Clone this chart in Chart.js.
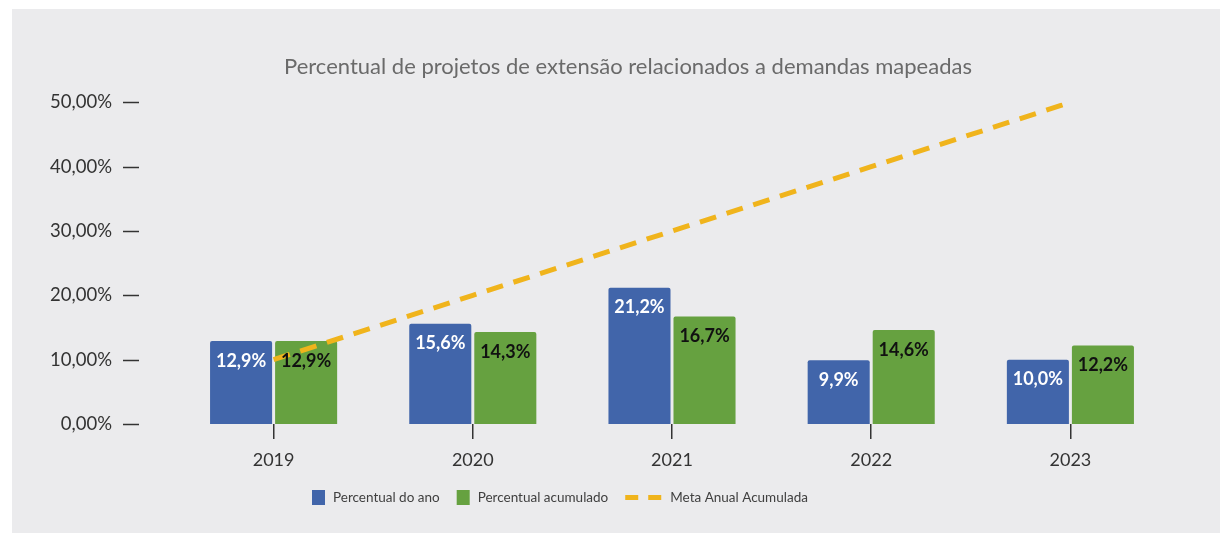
<!DOCTYPE html>
<html>
<head>
<meta charset="utf-8">
<script src="https://cdn.jsdelivr.net/npm/chart.js@4.4.0/dist/chart.umd.min.js"></script>
<style>
  html, body { margin: 0; padding: 0; background: #ffffff; }
  #wrap { position: relative; width: 1220px; height: 533px; }
</style>
</head>
<body>
<div id="wrap"><canvas id="metaChart" width="1220" height="533"></canvas></div>
<script>
const anos = ['2019', '2020', '2021', '2022', '2023'];
const percentualAno = [12.9, 15.6, 21.2, 9.9, 10.0];
const percentualAcumulado = [12.9, 14.3, 16.7, 14.6, 12.2];
const metaAnual = [10, 20, 30, 40, 50];
const yTicks = [0, 10, 20, 30, 40, 50];

const FONT = 'Lato';

function fmtPct(v, casas) {
  return v.toFixed(casas).replace('.', ',') + '%';
}

// gray panel behind everything
const panelBg = {
  id: 'panelBg',
  beforeDraw(chart) {
    const ctx = chart.ctx;
    ctx.save();
    ctx.fillStyle = '#ebebed';
    ctx.fillRect(12, 9, chart.width - 12, chart.height - 9);
    ctx.restore();
  }
};

// little dashes next to the y labels
const yDashes = {
  id: 'yDashes',
  afterDraw(chart) {
    const ctx = chart.ctx;
    const y = chart.scales.y;
    ctx.save();
    ctx.strokeStyle = '#333';
    ctx.lineWidth = 1.5;
    y.ticks.forEach(t => {
      const py = Math.round(y.getPixelForValue(t.value)) + 0.5;
      ctx.beginPath();
      ctx.moveTo(123, py);
      ctx.lineTo(139, py);
      ctx.stroke();
    });
    ctx.restore();
  }
};

// values inside the bars
const barLabels = {
  id: 'barLabels',
  afterDatasetsDraw(chart) {
    const ctx = chart.ctx;
    ctx.save();
    ctx.font = 'bold 18px ' + FONT;
    ctx.textAlign = 'center';
    ctx.textBaseline = 'middle';
    chart.data.datasets.forEach((ds, i) => {
      if (ds.type !== 'bar') return;
      const meta = chart.getDatasetMeta(i);
      ctx.fillStyle = ds.labelColor;
      meta.data.forEach((bar, j) => {
        ctx.fillText(fmtPct(ds.data[j], 1), bar.x, bar.y + 20);
      });
    });
    ctx.restore();
  }
};

// legend drawn by hand (line item is wider than the boxes)
const customLegend = {
  id: 'customLegend',
  afterDraw(chart) {
    const ctx = chart.ctx;
    const cy = 497.5;
    let x = 312;
    ctx.save();
    ctx.font = '13.5px ' + FONT;
    ctx.textBaseline = 'middle';
    ctx.textAlign = 'left';
    const items = [1, 2, 0].map(i => chart.data.datasets[i]);
    items.forEach(ds => {
      if (ds.type === 'bar') {
        ctx.fillStyle = ds.backgroundColor;
        ctx.fillRect(x, cy - 7.5, 13, 15);
        x += 13 + 8;
      } else {
        ctx.strokeStyle = ds.borderColor;
        ctx.lineWidth = 5;
        ctx.beginPath();
        ctx.moveTo(x, cy); ctx.lineTo(x + 13, cy);
        ctx.moveTo(x + 23, cy); ctx.lineTo(x + 36, cy);
        ctx.stroke();
        x += 36 + 9;
      }
      ctx.fillStyle = '#404040';
      ctx.fillText(ds.label, x, cy);
      x += ctx.measureText(ds.label).width + 17;
    });
    ctx.restore();
  }
};

new Chart(document.getElementById('metaChart'), {
  data: {
    labels: anos,
    datasets: [
      {
        type: 'line',
        label: 'Meta Anual Acumulada',
        data: metaAnual,
        borderColor: '#f0b41c',
        borderWidth: 5,
        borderDash: [17, 11],
        borderCapStyle: 'butt',
        pointRadius: 0,
        fill: false,
        order: 0
      },
      {
        type: 'bar',
        label: 'Percentual do ano',
        data: percentualAno,
        backgroundColor: '#4165aa',
        labelColor: '#ffffff',
        borderRadius: 2,
        categoryPercentage: 0.653,
        barPercentage: 0.954,
        order: 1
      },
      {
        type: 'bar',
        label: 'Percentual acumulado',
        data: percentualAcumulado,
        backgroundColor: '#66a140',
        labelColor: '#111111',
        borderRadius: 2,
        categoryPercentage: 0.653,
        barPercentage: 0.954,
        order: 1
      }
    ]
  },
  options: {
    responsive: false,
    animation: false,
    layout: { padding: { left: 36, right: 0, top: 0, bottom: 0 } },
    plugins: {
      legend: { display: false },
      tooltip: { enabled: false },
      title: {
        display: true,
        text: 'Percentual de projetos de extensão relacionados a demandas mapeadas',
        color: '#6a6a6a',
        font: { family: FONT, size: 22, weight: 'normal' },
        padding: { top: 54, bottom: 22 }
      }
    },
    scales: {
      x: {
        offset: true,
        grid: {
          display: true,
          drawOnChartArea: false,
          offset: false,
          tickLength: 15,
          color: '#333',
          lineWidth: 1.5
        },
        border: { display: false },
        ticks: { color: '#333', font: { family: FONT, size: 18 }, padding: 10 },
        afterFit(scale) { scale.height = 109; }
      },
      y: {
        min: 0,
        max: 50,
        afterBuildTicks(scale) { scale.ticks = yTicks.map(v => ({ value: v })); },
        grid: { display: false },
        border: { display: false },
        ticks: {
          color: '#333',
          font: { family: FONT, size: 18.5 },
          padding: 54,
          callback: v => fmtPct(v, 2)
        },
        afterFit(scale) { scale.width = 174 - 36; }
      },
      // empty axis on the right, only keeps the plot area off the edge
      yRight: {
        position: 'right',
        display: true,
        min: 0,
        max: 50,
        grid: { display: false },
        border: { display: false },
        ticks: { display: false },
        afterFit(scale) { scale.width = 50; }
      }
    }
  },
  plugins: [panelBg, yDashes, barLabels, customLegend]
});
</script>
</body>
</html>
